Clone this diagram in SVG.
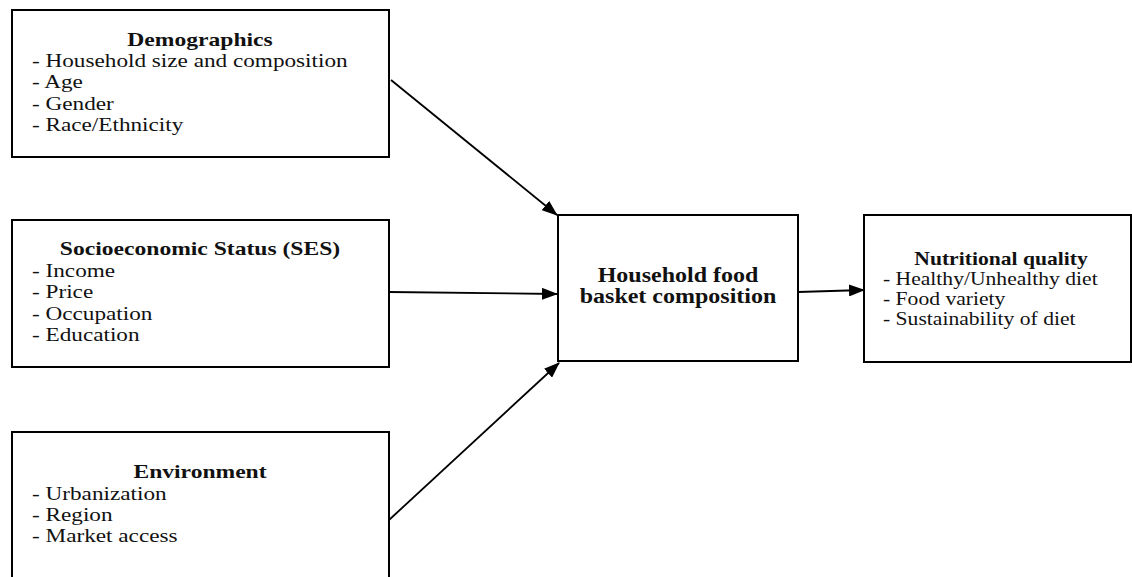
<svg xmlns="http://www.w3.org/2000/svg" width="1132" height="577" viewBox="0 0 1132 577">
<style>
.box{fill:#fff;stroke:#000;stroke-width:2}
.t{font-family:"Liberation Serif","Times New Roman",serif;font-size:19.5px;fill:#111}
.s{font-size:18px}
.b{font-weight:bold}
.m{text-anchor:middle}
.c{stroke:#000;stroke-width:1.8;fill:none}
</style>
<defs>
<marker id="ah" markerWidth="16" markerHeight="12" refX="15" refY="6" orient="auto" markerUnits="userSpaceOnUse" viewBox="0 0 16 12">
<path d="M0,0 L16,6 L0,12 z" fill="#000"/>
</marker>
</defs>
<rect width="1132" height="577" fill="#fff"/>
<g id="connectors">
<line class="c" x1="391" y1="80" x2="557" y2="215" marker-end="url(#ah)"/>
<line class="c" x1="389" y1="292" x2="557" y2="294" marker-end="url(#ah)"/>
<line class="c" x1="389" y1="520" x2="559" y2="363" marker-end="url(#ah)"/>
<line class="c" x1="798" y1="292" x2="864" y2="290" marker-end="url(#ah)"/>
</g>
<g id="demographics">
<rect class="box" x="12" y="10" width="377" height="147"/>
<text class="t b m" transform="translate(200,46) scale(1.21,1)">Demographics</text>
<text class="t" transform="translate(32,67) scale(1.19,1)">- Household size and composition</text>
<text class="t" transform="translate(32,88) scale(1.19,1)">- Age</text>
<text class="t" transform="translate(32,110) scale(1.19,1)">- Gender</text>
<text class="t" transform="translate(32,131) scale(1.19,1)">- Race/Ethnicity</text>
</g>
<g id="ses">
<rect class="box" x="12" y="220" width="377" height="147"/>
<text class="t b m" transform="translate(200,255) scale(1.21,1)">Socioeconomic Status (SES)</text>
<text class="t" transform="translate(32,277) scale(1.19,1)">- Income</text>
<text class="t" transform="translate(32,298) scale(1.19,1)">- Price</text>
<text class="t" transform="translate(32,320) scale(1.19,1)">- Occupation</text>
<text class="t" transform="translate(32,341) scale(1.19,1)">- Education</text>
</g>
<g id="environment">
<rect class="box" x="12" y="432" width="377" height="160"/>
<text class="t b m" transform="translate(200,478) scale(1.21,1)">Environment</text>
<text class="t" transform="translate(32,500) scale(1.19,1)">- Urbanization</text>
<text class="t" transform="translate(32,521) scale(1.19,1)">- Region</text>
<text class="t" transform="translate(32,542) scale(1.19,1)">- Market access</text>
</g>
<g id="basket">
<rect class="box" x="558" y="215" width="240" height="146"/>
<text class="t b m" style="font-size:20px" transform="translate(678,282) scale(1.2,1)">Household food</text>
<text class="t b m" style="font-size:20px" transform="translate(678,303) scale(1.2,1)">basket composition</text>
</g>
<g id="nutrition">
<rect class="box" x="864" y="215" width="267" height="147"/>
<text class="t s b m" transform="translate(1001,265) scale(1.2,1)">Nutritional quality</text>
<text class="t s" transform="translate(883,285) scale(1.2,1)">- Healthy/Unhealthy diet</text>
<text class="t s" transform="translate(883,305) scale(1.2,1)">- Food variety</text>
<text class="t s" transform="translate(883,325) scale(1.2,1)">- Sustainability of diet</text>
</g>
</svg>
